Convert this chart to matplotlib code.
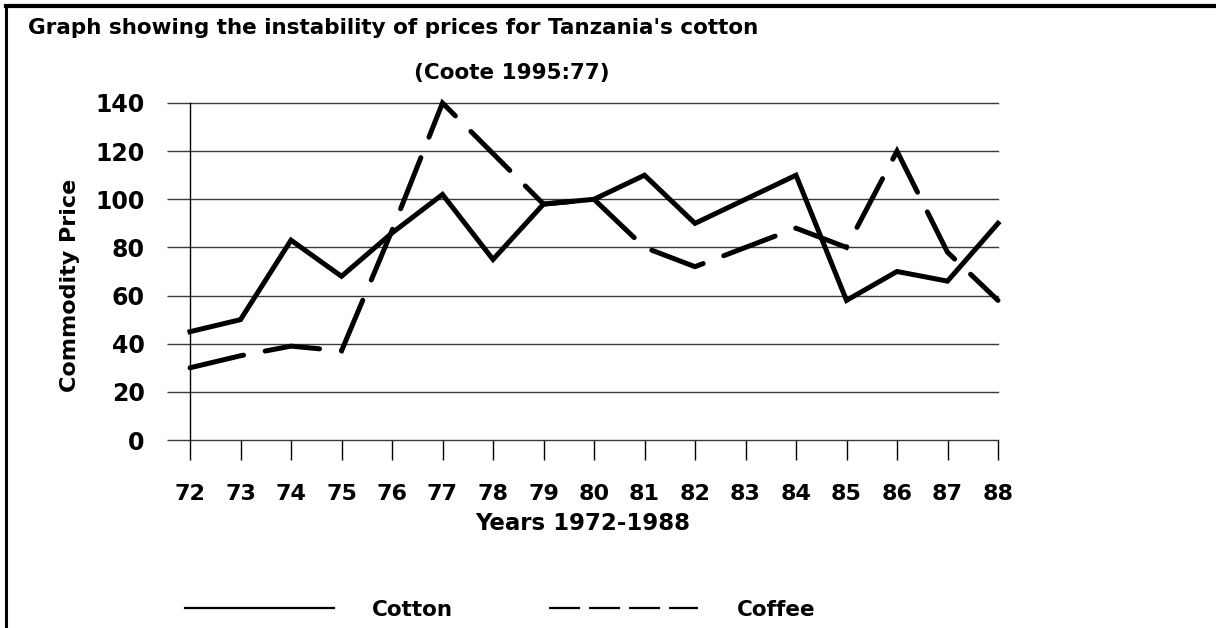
import numpy as np
import matplotlib
matplotlib.use("Agg")
from matplotlib import pyplot as plt
from matplotlib.lines import Line2D

# data
years = list(range(72, 89))
cotton = [45, 50, 83, 68, 86, 102, 75, 98, 100, 110, 90, 100, 110, 58, 70, 66, 90]
coffee = [30, 35, 39, 37, 87, 140, 119, 98, 100, 80, 72, 80, 88, 80, 120, 78, 58]
y_ticks = [0, 20, 40, 60, 80, 100, 120, 140]

title = "Graph showing the instability of prices for Tanzania's cotton"
subtitle = "(Coote 1995:77)"
x_label = "Years 1972-1988"
y_label = "Commodity Price"

plt.rcParams['font.family'] = ['DejaVu Sans']
plt.rcParams['font.weight'] = 'bold'

W, H = 1216, 628
fig = plt.figure(figsize=(W / 100, H / 100), dpi=100)
fig.patch.set_facecolor('white')

# axes placed in pixel terms
ax = fig.add_axes([190 / W, 1 - 440 / H, 808 / W, 337 / H])
ax.set_xlim(72, 88)
ax.set_ylim(0, 140)

grid_color = '#3a3a3a'

# Lines
ax.plot(years, cotton, color='k', lw=3.6, solid_joinstyle='miter', clip_on=False, zorder=3)
ax.plot(years, coffee, color='k', lw=3.6, linestyle=(0, (11, 4.4)),
        dash_capstyle='round', dash_joinstyle='miter', clip_on=False, zorder=3)

# axes styling
for s in ['top', 'right', 'bottom']:
    ax.spines[s].set_visible(False)
ax.spines['left'].set_color('k')
ax.spines['left'].set_linewidth(1.0)

ax.set_yticks(y_ticks)
ax.set_xticks(years)
ax.set_xticklabels([str(y) for y in years])
ax.tick_params(axis='y', direction='out', length=16.5, width=1.0, color=grid_color,
               labelsize=17, pad=16)
ax.tick_params(axis='x', direction='out', length=14.4, width=1.0, color='k',
               labelsize=16, pad=17)
ax.yaxis.grid(True, color=grid_color, lw=1.0)
ax.set_axisbelow(True)
for gl in ax.get_ygridlines():
    gl.set_clip_on(False)

# titles and labels
fig.text(28 / W, 1 - 28 / H, title, fontsize=15.5, ha='left', va='center')
fig.text(512 / W, 1 - 73 / H, subtitle, fontsize=15.5, ha='center', va='center')
fig.text(583 / W, 1 - 523 / H, x_label, fontsize=16.5, ha='center', va='center')
fig.text(70 / W, 1 - 285 / H, y_label, fontsize=16, ha='center', va='center', rotation=90)

# Legend
handles = [
    Line2D([], [], color='k', lw=1.6),
    Line2D([], [], color='k', lw=1.6, linestyle=(0, (14, 4))),
]
fig.legend(handles, ['Cotton', 'Coffee'], loc='center left',
           bbox_to_anchor=(185 / W, 1 - 610 / H), ncol=2, frameon=False,
           fontsize=15.5, handlelength=6.9, handletextpad=1.8, columnspacing=4.45,
           borderpad=0, borderaxespad=0)

# page border (top and left edges)
fig.add_artist(Line2D([6 / W, 1], [1 - 6 / H, 1 - 6 / H], transform=fig.transFigure,
                      color='k', lw=3.0))
fig.add_artist(Line2D([6 / W, 6 / W], [1 - 6 / H, 0], transform=fig.transFigure,
                      color='k', lw=2.2))

fig.savefig('out.png', dpi=100)
plt.close(fig)
